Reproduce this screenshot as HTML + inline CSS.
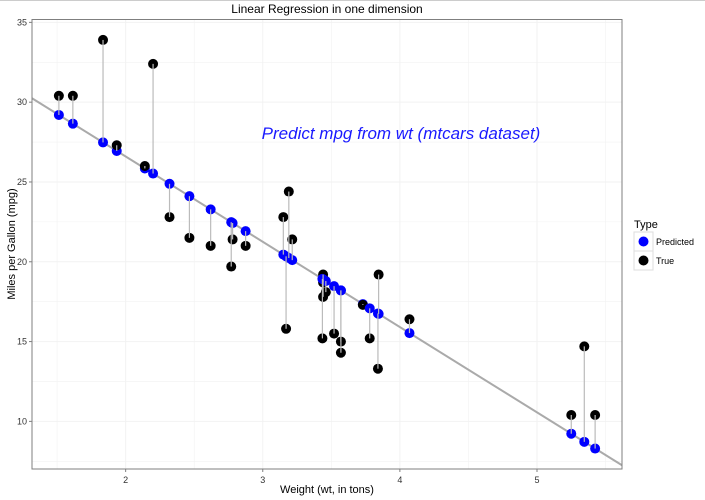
<!DOCTYPE html>
<html><head><meta charset="utf-8"><style>
body{margin:0;background:#fff;}
svg{font-family:"Liberation Sans",sans-serif;display:block}
</style></head><body>
<svg id="chart" width="705" height="500">
<rect x="0" y="0" width="705" height="1" fill="#ccc"/>
<text x="327" y="13" text-anchor="middle" font-size="12" fill="#000">Linear Regression in one dimension</text>
<g id="grid"></g>
<g id="marks"></g>
<rect x="32" y="19.5" width="590" height="449.5" fill="none" stroke="#7f7f7f" stroke-width="1"/>
<g id="axes"></g>
<text x="401" y="139" text-anchor="middle" font-size="17" font-style="italic" fill="#1a1aff">Predict mpg from wt (mtcars dataset)</text>
<text x="327" y="493" text-anchor="middle" font-size="11">Weight (wt, in tons)</text>
<text transform="translate(15,244) rotate(-90)" text-anchor="middle" font-size="11">Miles per Gallon (mpg)</text>
<g>
<text x="634" y="228" font-size="11">Type</text>
<rect x="634" y="232" width="19" height="19" fill="#fff" stroke="#ddd"/>
<circle cx="643.5" cy="241.5" r="5" fill="#0000ff"/>
<text x="656" y="245" font-size="9">Predicted</text>
<rect x="634" y="251" width="19" height="19" fill="#fff" stroke="#ddd"/>
<circle cx="643.5" cy="260.5" r="5" fill="#000"/>
<text x="656" y="264" font-size="9">True</text>
</g>
</svg>
<script>
const wt=[2.620,2.875,2.320,3.215,3.440,3.460,3.570,3.190,3.150,3.440,3.440,4.070,3.730,3.780,5.250,5.424,5.345,2.200,1.615,1.835,2.465,3.520,3.435,3.840,3.845,1.935,2.140,1.513,3.170,2.770,3.570,2.780];
const mpg=[21.0,21.0,22.8,21.4,18.7,18.1,14.3,24.4,22.8,19.2,17.8,16.4,17.3,15.2,10.4,10.4,14.7,32.4,30.4,33.9,21.5,15.5,15.2,13.3,19.2,27.3,26.0,30.4,15.8,19.7,15.0,21.4];
const xTicks=[2,3,4,5];
const yTicks=[10,15,20,25,30,35];
const NS='http://www.w3.org/2000/svg';
const X0=32,X1=622,Y0=469,Y1=19.5,xMin=1.317,xMax=5.620,yMin=7.016,yMax=35.18;
function sx(v){return X0+(v-xMin)/(xMax-xMin)*(X1-X0);}
function sy(v){return Y0-(v-yMin)/(yMax-yMin)*(Y0-Y1);}
function mk(tag,attrs,parent){const e=document.createElementNS(NS,tag);for(const k in attrs)e.setAttribute(k,attrs[k]);parent.appendChild(e);return e;}
const n=wt.length;let mx=0,my=0;for(let i=0;i<n;i++){mx+=wt[i];my+=mpg[i];}mx/=n;my/=n;
let sxy=0,sxx=0;for(let i=0;i<n;i++){sxy+=(wt[i]-mx)*(mpg[i]-my);sxx+=(wt[i]-mx)**2;}
const b=sxy/sxx,a=my-b*mx;const pred=wt.map(w=>a+b*w);
const grid=document.getElementById('grid'),marks=document.getElementById('marks'),axes=document.getElementById('axes');
mk('rect',{x:X0,y:Y1,width:X1-X0,height:Y0-Y1,fill:'#fff'},grid);
for(let i=0;i<xTicks.length;i++){
 for(const v of [xTicks[i],xTicks[i]-0.5]){const g=mk('line',{x1:sx(v),x2:sx(v),y1:Y1,y2:Y0,stroke:'#f2f2f2','stroke-width':v===xTicks[i]?1:0.6},grid);
 
 }
 const t=mk('text',{x:sx(xTicks[i]),y:Y0+14,'text-anchor':'middle','font-size':'9',fill:'#333'},axes);t.textContent=xTicks[i];
 
 
 const tk=mk('line',{x1:sx(xTicks[i]),x2:sx(xTicks[i]),y1:Y0,y2:Y0+3,stroke:'#7f7f7f'},axes);
 
 
}
{const g=mk('line',{x1:sx(5.5),x2:sx(5.5),y1:Y1,y2:Y0,stroke:'#f2f2f2','stroke-width':0.6},grid);

}
for(let i=0;i<yTicks.length;i++){
 for(const v of [yTicks[i],yTicks[i]-2.5]){const g=mk('line',{x1:X0,x2:X1,y1:sy(v),y2:sy(v),stroke:'#f2f2f2','stroke-width':v===yTicks[i]?1:0.6},grid);
 
 }
 const t=mk('text',{x:X0-5,y:sy(yTicks[i])+3,'text-anchor':'end','font-size':'9',fill:'#333'},axes);t.textContent=yTicks[i];
 
 
 const tk=mk('line',{x1:X0-3,x2:X0,y1:sy(yTicks[i]),y2:sy(yTicks[i]),stroke:'#7f7f7f'},axes);
 
 
}
const rl=mk('line',{x1:sx(xMin),y1:sy(a+b*xMin),x2:sx(xMax),y2:sy(a+b*xMax),stroke:'#aaa','stroke-width':2},marks);


for(let i=0;i<n;i++){
 const p=mk('circle',{cx:sx(wt[i]),cy:sy(pred[i]),r:5,fill:'#0000ff'},marks);
 
 
 const t=mk('circle',{cx:sx(wt[i]),cy:sy(mpg[i]),r:5,fill:'#000'},marks);
 
 
}
for(let i=0;i<n;i++){
 const s=mk('line',{x1:sx(wt[i]),x2:sx(wt[i]),y1:sy(mpg[i]),y2:sy(pred[i]),stroke:'#bbb','stroke-width':1.2},marks);
 
 
}
</script>
</body></html>
